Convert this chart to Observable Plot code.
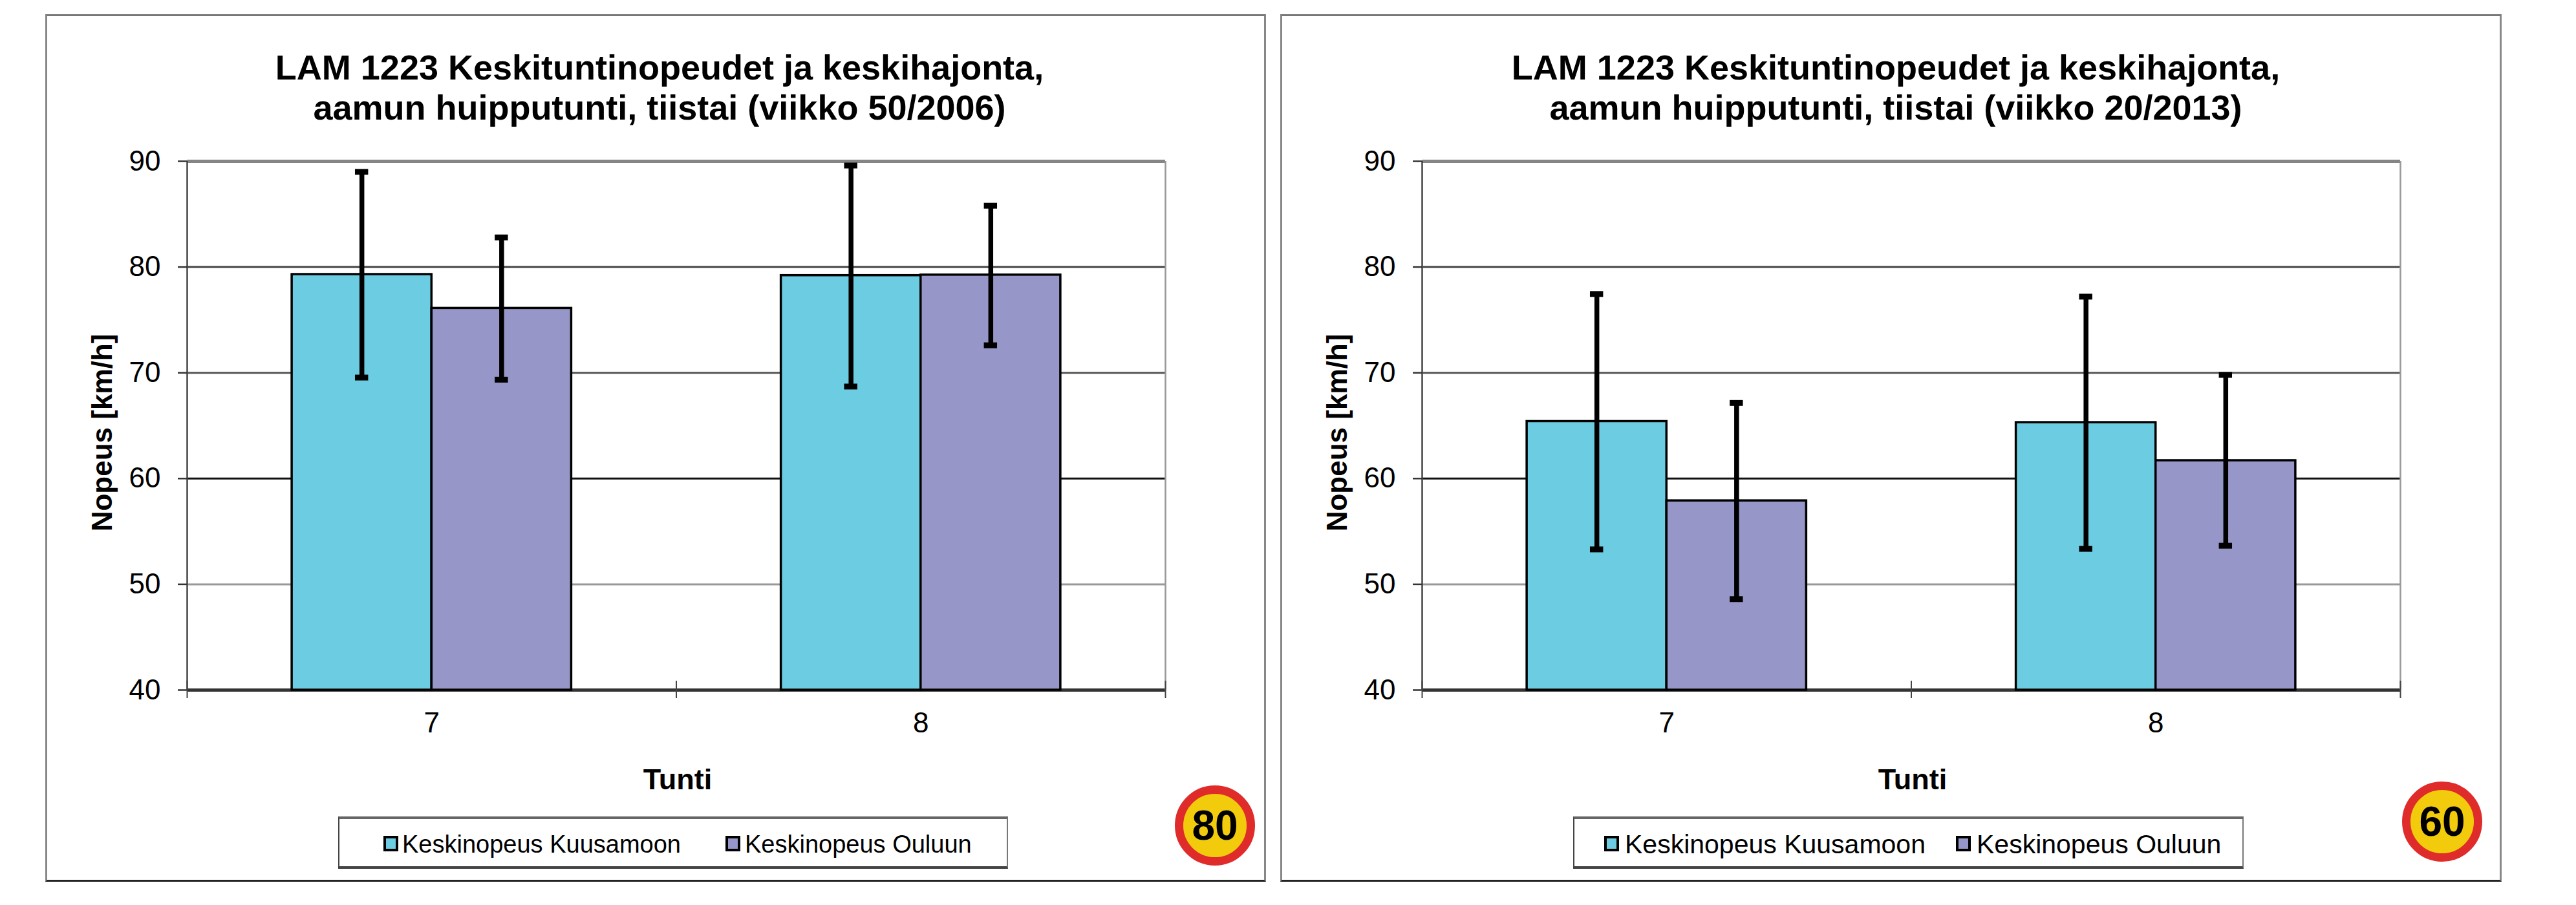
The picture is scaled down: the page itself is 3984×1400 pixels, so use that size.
<!DOCTYPE html>
<html>
<head>
<meta charset="utf-8">
<script src="https://cdn.jsdelivr.net/npm/d3@7"></script>
<script src="https://cdn.jsdelivr.net/npm/@observablehq/plot@0.6"></script>
<style>
html,body{margin:0;padding:0;background:#fff;width:3984px;height:1400px;overflow:hidden}
body{font-family:"Liberation Sans",Arial,sans-serif;color:#000;position:relative}
.panel{position:absolute;top:22px;height:1342px;box-sizing:border-box;background:#fff;
 border-top:3px solid #777;border-left:3px solid #888;border-right:3px solid #888;border-bottom:3px solid #222}
.plot{position:absolute;top:22px}
.title{position:absolute;top:73px;transform:translateX(-50%);font-weight:bold;font-size:54px;line-height:62px;text-align:center;white-space:nowrap}
.legend{position:absolute;top:1263px;height:81px;box-sizing:border-box;background:#fff;
 border-top:4px solid #666;border-bottom:4px solid #444;border-left:2px solid #444;border-right:2px solid #777}
.sw{position:absolute;top:26px;width:23px;height:24px;box-sizing:border-box;border:4px solid #000}
.lt{position:absolute;top:17px;line-height:44px;white-space:nowrap}
.sign{position:absolute;width:124px;height:124px;box-sizing:border-box;border-radius:50%;background:#f2cc0c;border:13px solid #e02b2b;
 font-weight:bold;font-size:64px;line-height:98px;text-align:center;color:#000}
</style>
</head>
<body>
<script>
const hours = [7, 8];
const seriesNames = ["Keskinopeus Kuusamoon", "Keskinopeus Ouluun"];
const yTicks = [40, 50, 60, 70, 80, 90];

const kuusamo2006 = [79.3, 79.2];
const kuusamo2006Low = [69.55, 68.7];
const kuusamo2006High = [89.0, 89.6];
const oulu2006 = [76.1, 79.25];
const oulu2006Low = [69.35, 72.6];
const oulu2006High = [82.8, 85.8];

const kuusamo2013 = [65.4, 65.3];
const kuusamo2013Low = [53.3, 53.35];
const kuusamo2013High = [77.45, 77.2];
const oulu2013 = [57.9, 61.7];
const oulu2013Low = [48.6, 53.65];
const oulu2013High = [67.15, 69.8];

const colors = ["#6ccde2", "#9696c8"];
const gridColors = {40: "#333", 50: "#999", 60: "#111", 70: "#555", 80: "#444", 90: "#858585"};
const FONT = '"Liberation Sans", Arial, sans-serif';

function rows(a, aLow, aHigh, b, bLow, bHigh) {
  const out = [];
  hours.forEach((h, i) => {
    out.push({x1: i + 3/14, x2: i + 1/2, mid: i + 5/14, v: a[i], lo: aLow[i], hi: aHigh[i], s: 0});
    out.push({x1: i + 1/2, x2: i + 11/14, mid: i + 9/14, v: b[i], lo: bLow[i], hi: bHigh[i], s: 1});
  });
  return out;
}

function chart(data, left) {
  const capHalf = 0.0135;
  const svg = Plot.plot({
    width: 1888, height: 1342,
    marginLeft: 219, marginRight: 156, marginTop: 227, marginBottom: 297,
    style: {fontFamily: FONT, background: "transparent", overflow: "visible", color: "#000"},
    x: {type: "linear", domain: [0, 2], axis: null},
    y: {type: "linear", domain: [40, 90], axis: null},
    marks: [
      Plot.ruleY(yTicks, {stroke: d => gridColors[d], strokeWidth: d => d === 40 ? 5 : d === 90 ? 5 : 3}),
      Plot.ruleX([0], {y1: 40, y2: 90, stroke: "#444", strokeWidth: 2.5}),
      Plot.ruleX([2], {y1: 40, y2: 90, stroke: "#999", strokeWidth: 2.5}),
      Plot.rectY(data, {x1: "x1", x2: "x2", y1: 40, y2: "v", fill: d => colors[d.s], stroke: "#000", strokeWidth: 3.5}),
      Plot.ruleX(data, {x: "mid", y1: "lo", y2: "hi", stroke: "#000", strokeWidth: 7.5}),
      Plot.ruleY(data, {y: "hi", x1: d => d.mid - capHalf, x2: d => d.mid + capHalf, stroke: "#000", strokeWidth: 9}),
      Plot.ruleY(data, {y: "lo", x1: d => d.mid - capHalf, x2: d => d.mid + capHalf, stroke: "#000", strokeWidth: 9}),
      Plot.axisY({ticks: yTicks, tickSize: 14, tickPadding: 27, fontSize: 44, label: null, stroke: "#333", strokeWidth: 2.5}),
      Plot.ruleX([0, 1, 2], {y1: 40, y2: 40, stroke: "#444", strokeWidth: 2, insetTop: -14, insetBottom: -13}),
      Plot.axisX({ticks: [0.5, 1.5], tickFormat: d => String(hours[d - 0.5]), tickSize: 0, tickPadding: 34, fontSize: 44, label: null}),
      Plot.text(["Nopeus [km/h]"], {frameAnchor: "left", textAnchor: "middle", rotate: -90, dx: -131, dy: 11, fontSize: 44, fontWeight: "bold", fill: "#000"}),
      Plot.text(["Tunti"], {frameAnchor: "bottom", lineAnchor: "bottom", dy: 153, dx: 2, fontSize: 45, fontWeight: "bold", fill: "#000"})
    ]
  });
  const holder = document.createElement("div");
  holder.className = "plot";
  holder.style.left = left + "px";
  holder.appendChild(svg);
  return holder;
}

function add(html) {
  const t = document.createElement("div");
  t.innerHTML = html;
  const el = t.firstElementChild;
  document.body.appendChild(el);
  return el;
}

function panel(cfg) {
  add(`<div class="panel" style="left:${cfg.left}px;width:${cfg.width}px"></div>`);
  document.body.appendChild(chart(cfg.data, cfg.left));
  add(`<div class="title" style="left:${cfg.titleX}px">LAM 1223 Keskituntinopeudet ja keskihajonta,<br>aamun huipputunti, tiistai (viikko ${cfg.week})</div>`);
  add(`<div class="legend" style="left:${cfg.leg[0]}px;width:${cfg.leg[1] - cfg.leg[0]}px;font-size:${cfg.legFont}px">
    <div class="sw" style="left:${cfg.sw[0]}px;background:${colors[0]}"></div>
    <div class="lt" style="left:${cfg.txt[0]}px">${seriesNames[0]}</div>
    <div class="sw" style="left:${cfg.sw[1]}px;background:${colors[1]}"></div>
    <div class="lt" style="left:${cfg.txt[1]}px">${seriesNames[1]}</div>
  </div>`);
  add(`<div class="sign" style="left:${cfg.sign[0]}px;top:${cfg.sign[1]}px">${cfg.limit}</div>`);
}

panel({
  left: 70, width: 1888, titleX: 1020, week: "50/2006", limit: 80,
  data: rows(kuusamo2006, kuusamo2006Low, kuusamo2006High, oulu2006, oulu2006Low, oulu2006High),
  leg: [523, 1559], legFont: 38, sw: [68, 597], txt: [97, 627], sign: [1817, 1215]
});
panel({
  left: 1980, width: 1889, titleX: 2932, week: "20/2013", limit: 60,
  data: rows(kuusamo2013, kuusamo2013Low, kuusamo2013High, oulu2013, oulu2013Low, oulu2013High),
  leg: [2433, 3470], legFont: 41, sw: [46, 590], txt: [78, 622], sign: [3715, 1209]
});
</script>
</body>
</html>
